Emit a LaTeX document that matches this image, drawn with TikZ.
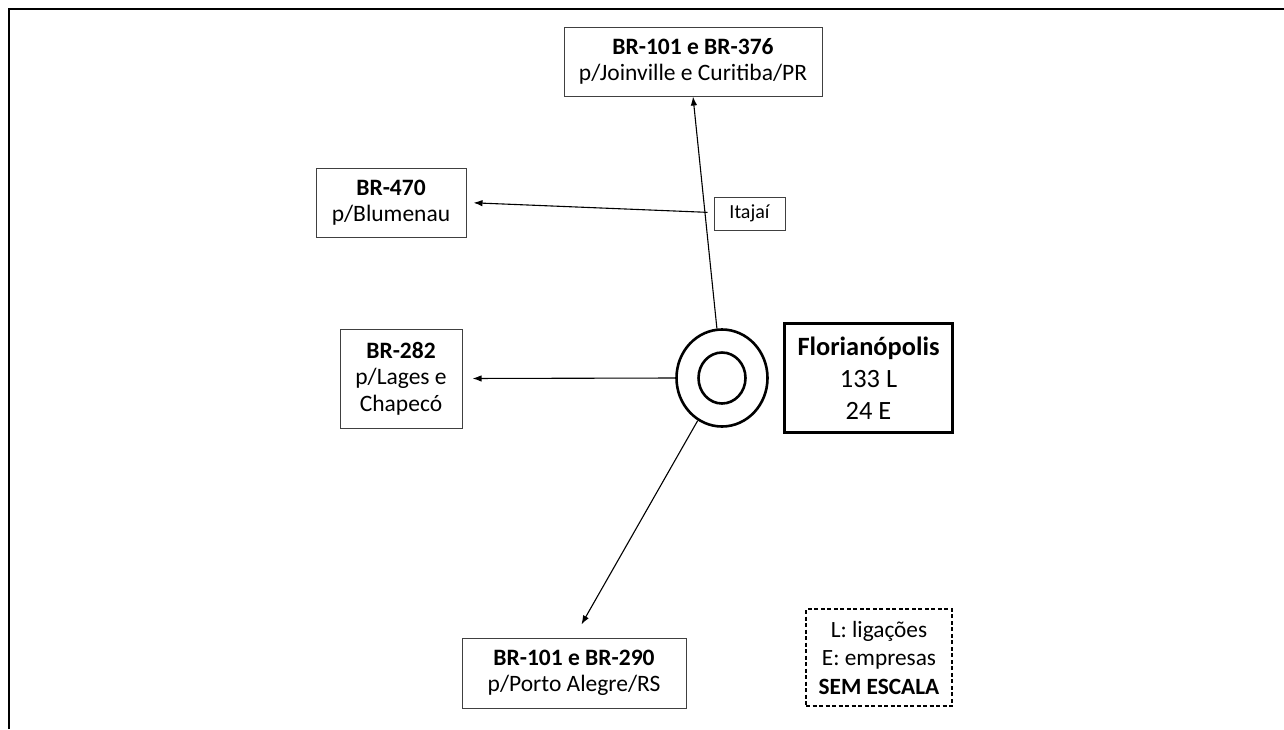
\documentclass[tikz,border=0pt]{standalone}
\usepackage{fontspec}
\setmainfont{Carlito}
\usetikzlibrary{arrows.meta,shapes.geometric}
\tikzset{
  road/.style={draw=black!75, line width=1pt, align=center, inner sep=0pt,
    font=\fontsize{23.5}{26.5}\selectfont},
  link/.style={-{Latex[length=9pt,width=6.5pt]}, line width=1.1pt},
  ringline/.style={ellipse, draw, line width=2.6pt, inner sep=0pt},
}
\begin{document}
\begin{tikzpicture}[x=1pt,y=-1pt]
\useasboundingbox (0,0) rectangle (1284,729);
\draw[line width=2.4pt] (9,729) -- (9,9) -- (1284,9);
% city rings
\node[ringline, minimum width=91pt, minimum height=97pt] (ring) at (722,378){};
\node[ringline, minimum width=47pt, minimum height=51pt] (core) at (722,378){};
\node[draw, line width=2.6pt, align=center, inner sep=0pt, minimum width=168pt, minimum height=109pt,
  font=\fontsize{26.4}{32}\selectfont] (city) at (868.5,378){\textbf{Florianópolis}\\133 L\\24 E};
% roads
\node[road, minimum width=258pt, minimum height=69pt] (r376) at (693,61.5){\textbf{BR-101 e BR-376}\\p/Joinville e Curitiba/PR};
\node[road, minimum width=150pt, minimum height=69pt] (r470) at (391,202.5){\textbf{BR-470}\\p/Blumenau};
\node[road, minimum width=122pt, minimum height=99pt] (r282) at (401,378.5){\textbf{BR-282}\\p/Lages e\\Chapecó};
\node[road, minimum width=224pt, minimum height=70pt] (r290) at (574,673){\textbf{BR-101 e BR-290}\\p/Porto Alegre/RS};
\node[road, minimum width=71pt, minimum height=33pt, font=\fontsize{20}{22}\selectfont] (itajai) at (749.5,213.5){Itajaí};
% legend
\node[draw, line width=2pt, dash pattern=on 4pt off 2.5pt, align=center, inner sep=0pt,
  minimum width=146pt, minimum height=97pt, font=\fontsize{23.3}{28.5}\selectfont] (legend) at (879,657.5)
  {L: ligações\\E: empresas\\\textbf{SEM ESCALA}};
% connectors
\draw[link] (ring) -- (r376.south);
\path (ring.north) -- (r376.south) coordinate[pos=0.5] (fork);
\draw[link, shorten >=7pt] (fork) -- (r470.east);
\draw[link, shorten >=10pt] (ring.west) -- (r282.east);
\draw[link, shorten >=15pt] (ring) -- (r290.north);
\end{tikzpicture}
\end{document}
